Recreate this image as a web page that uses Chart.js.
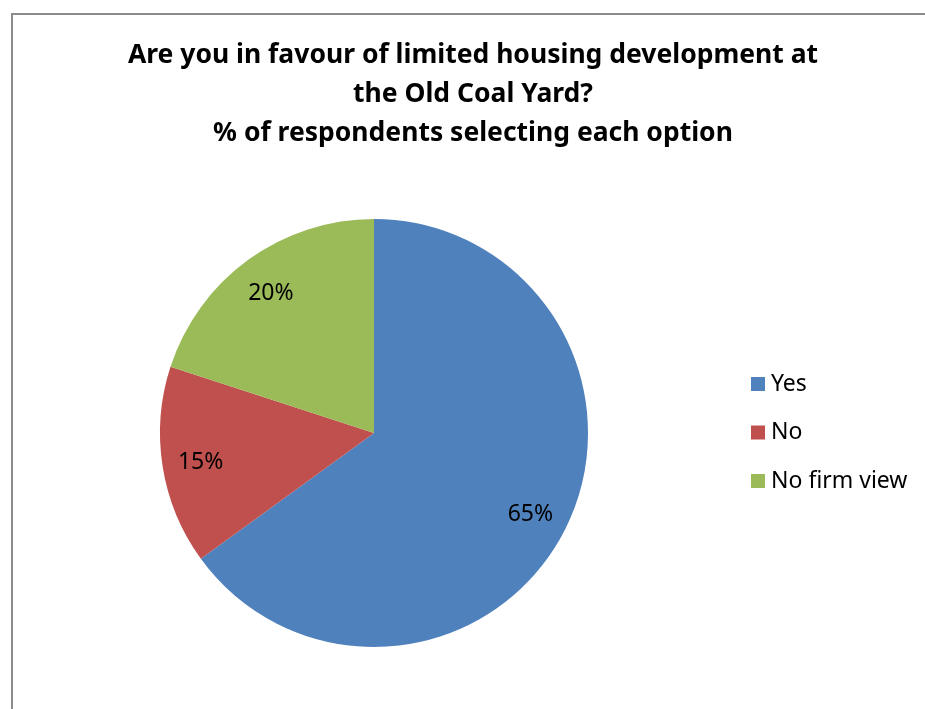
<!DOCTYPE html>
<html lang="en">
  <head>
    <meta charset="UTF-8" />
    <title>Old Coal Yard</title>
    <script src="https://cdn.jsdelivr.net/npm/chart.js"></script>
    <style>
      body {
        margin: 0;
        background: #ffffff;
        overflow: hidden;
      }
      .frame {
        position: absolute;
        left: 11px;
        top: 13px;
        width: 1000px;
        height: 800px;
        border: 2px solid #8c8c8c;
        box-sizing: border-box;
      }
      canvas {
        position: absolute;
        left: 0;
        top: 0;
      }
    </style>
  </head>
  <body>
    <div class="frame"></div>
    <canvas id="pieChart" width="925" height="709"></canvas>

    <script>
      // datos
      const categories = ["Yes", "No", "No firm view"];
      const percentages = [65, 15, 20];
      const sliceColors = ["#4F81BD", "#C0504D", "#9BBB59"];
      const titleLines = [
        "Are you in favour of limited housing development at",
        "the Old Coal Yard?",
        "% of respondents selecting each option",
      ];

      const FONT = '"Noto Sans", sans-serif';

      // titulo, etiquetas y leyenda dibujados a mano
      const extras = {
        id: "extras",
        afterDraw(chart) {
          const ctx = chart.ctx;
          ctx.save();
          ctx.fillStyle = "#000";
          ctx.textAlign = "center";
          ctx.textBaseline = "middle";

          ctx.font = "bold 26.5px " + FONT;
          titleLines.forEach((line, i) => {
            ctx.fillText(line, 473, 55 + i * 39);
          });

          ctx.font = "23px " + FONT;
          const meta = chart.getDatasetMeta(0);
          meta.data.forEach((arc, i) => {
            const mid = (arc.startAngle + arc.endAngle) / 2;
            const r = arc.outerRadius * 0.82;
            ctx.fillText(
              percentages[i] + "%",
              arc.x + Math.cos(mid) * r,
              arc.y + Math.sin(mid) * r + 2
            );
          });

          ctx.textAlign = "left";
          categories.forEach((name, i) => {
            const y = 384 + i * 48.5;
            ctx.fillStyle = sliceColors[i];
            ctx.fillRect(751, y - 7, 14, 14);
            ctx.fillStyle = "#000";
            ctx.fillText(name, 771, y);
          });
          ctx.restore();
        },
      };

      new Chart(document.getElementById("pieChart"), {
        type: "pie",
        data: {
          labels: categories,
          datasets: [
            {
              data: percentages,
              backgroundColor: sliceColors,
              borderWidth: 0,
            },
          ],
        },
        options: {
          responsive: false,
          animation: false,
          layout: {
            padding: { left: 160, right: 337, top: 219, bottom: 62 },
          },
          plugins: {
            legend: { display: false },
            title: { display: false },
            tooltip: { enabled: false },
          },
        },
        plugins: [extras],
      });
    </script>
  </body>
</html>
